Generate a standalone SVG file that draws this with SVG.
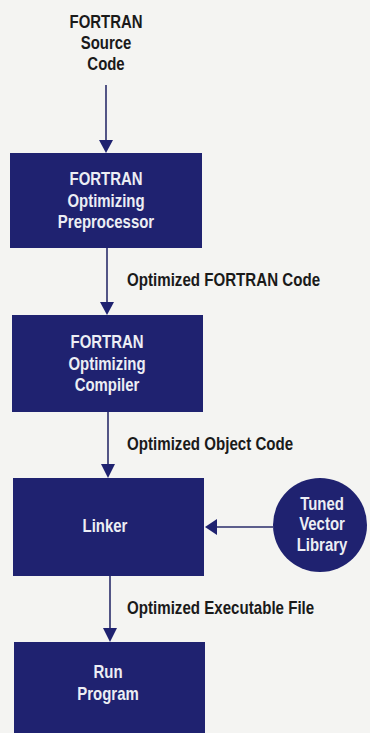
<svg xmlns="http://www.w3.org/2000/svg" width="370" height="733" viewBox="0 0 370 733">
<defs>
<style>
.bg{fill:#f4f4f2}
.box{fill:#1f2270}
.lbl{font-family:"Liberation Sans",Arial,sans-serif;font-weight:bold;font-size:18px;fill:#1a1a1a}
.inn{font-family:"Liberation Sans",Arial,sans-serif;font-weight:bold;font-size:18px;fill:#eceef4;text-anchor:middle}
.top{text-anchor:middle}
.line{stroke:#2a2c6a;stroke-width:1.6;fill:none}
.head{fill:#1f2270}
</style>
</defs>
<rect class="bg" x="0" y="0" width="370" height="733"/>
<g id="connectors">
<line class="line" x1="106" y1="85" x2="106" y2="141"/>
<polygon class="head" points="99,140 113,140 106,153"/>
<line class="line" x1="107" y1="248" x2="107" y2="303"/>
<polygon class="head" points="100,302 114,302 107,315"/>
<line class="line" x1="108" y1="412" x2="108" y2="465"/>
<polygon class="head" points="101,464 115,464 108,478"/>
<line class="line" x1="110" y1="576" x2="110" y2="630"/>
<polygon class="head" points="103,628 117,628 110,642"/>
<line class="line" x1="216" y1="527" x2="273" y2="527"/>
<polygon class="head" points="205,527 217,519 217,535"/>
<g transform="translate(127,0) scale(0.84,1)">
<text class="lbl" x="0" y="286">Optimized FORTRAN Code</text>
<text class="lbl" x="0" y="450">Optimized Object Code</text>
<text class="lbl" x="0" y="614">Optimized Executable File</text>
</g>
</g>
<g id="source">
<g transform="translate(106,0) scale(0.83,1)">
<text class="lbl top" x="0" y="28">FORTRAN</text>
<text class="lbl top" x="0" y="49">Source</text>
<text class="lbl top" x="0" y="70">Code</text>
</g>
</g>
<g id="preprocessor">
<rect class="box" x="10" y="153" width="192" height="95"/>
<g transform="translate(106,0) scale(0.83,1)">
<text class="inn" x="0" y="185">FORTRAN</text>
<text class="inn" x="0" y="207">Optimizing</text>
<text class="inn" x="0" y="228">Preprocessor</text>
</g>
</g>
<g id="compiler">
<rect class="box" x="12" y="315" width="191" height="97"/>
<g transform="translate(107,0) scale(0.83,1)">
<text class="inn" x="0" y="348">FORTRAN</text>
<text class="inn" x="0" y="370">Optimizing</text>
<text class="inn" x="0" y="391">Compiler</text>
</g>
</g>
<g id="linker">
<rect class="box" x="13" y="478" width="191" height="98"/>
<g transform="translate(105,0) scale(0.83,1)">
<text class="inn" x="0" y="532">Linker</text>
</g>
</g>
<g id="library">
<circle class="box" cx="320" cy="525" r="47"/>
<g transform="translate(322,0) scale(0.83,1)">
<text class="inn" x="0" y="510">Tuned</text>
<text class="inn" x="0" y="530">Vector</text>
<text class="inn" x="0" y="551">Library</text>
</g>
</g>
<g id="run">
<rect class="box" x="14" y="642" width="191" height="95"/>
<g transform="translate(108,0) scale(0.83,1)">
<text class="inn" x="0" y="678">Run</text>
<text class="inn" x="0" y="700">Program</text>
</g>
</g>
</svg>
